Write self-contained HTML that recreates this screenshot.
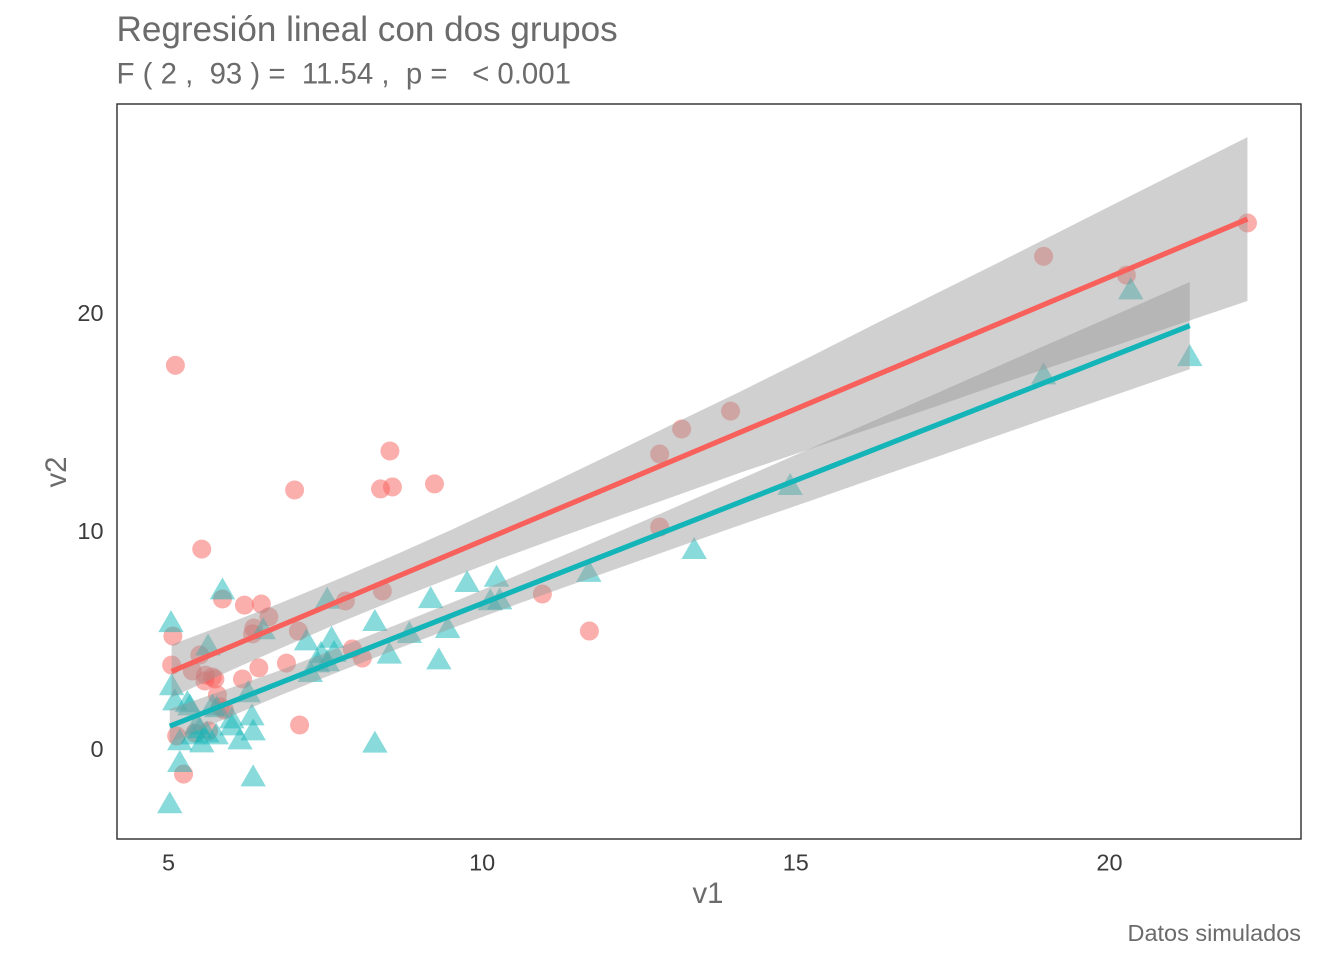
<!DOCTYPE html>
<html lang="es">
<head>
<meta charset="utf-8">
<title>Regresión lineal con dos grupos</title>
<style>
html,body{margin:0;padding:0;background:#fff;}
svg{display:block;font-family:"Liberation Sans",sans-serif;}
</style>
</head>
<body>
<svg id="chart" xmlns="http://www.w3.org/2000/svg" width="1344" height="960" viewBox="0 0 1344 960">
  <text x="116.5" y="41" font-size="35.1" fill="#6b6b6b">Regresión lineal con dos grupos</text>
  <text x="116.5" y="83.5" font-size="29.4" fill="#6b6b6b" xml:space="preserve">F ( 2 ,  93 ) =  11.54 ,  p =   &lt; 0.001</text>
  <g id="points-layer"></g>
  <g id="bands-layer"></g>
  <g id="lines-layer"></g>
  <rect x="117" y="104" width="1184" height="735" fill="none" stroke="#333333" stroke-width="1.45"/>
  <g id="x-ticks"></g>
  <g id="y-ticks"></g>
  <text x="708" y="903" font-size="29.33" fill="#6b6b6b" text-anchor="middle">v1</text>
  <text transform="translate(66 472) rotate(-90)" font-size="29.33" fill="#6b6b6b" text-anchor="middle">v2</text>
  <text x="1301" y="941" font-size="23.47" fill="#6b6b6b" text-anchor="end">Datos simulados</text>
</svg>
<script>
const xTicks = [5, 10, 15, 20];
const yTicks = [0, 10, 20];

const redX = [22.20,20.27,18.95,13.96,13.18,12.83,12.83,11.71,10.96,9.24,8.57,8.38,8.53,8.41,7.82,7.93,8.09,7.01,7.07,6.88,7.09,6.60,6.48,6.21,6.36,6.34,6.44,6.18,5.86,5.53,5.11,5.07,5.05,5.50,5.38,5.59,5.58,5.70,5.74,5.78,5.83,5.89,5.13,5.42,5.64,5.24];
const redY = [24.13,21.74,22.60,15.50,14.68,13.53,10.18,5.41,7.11,12.16,12.02,11.93,13.67,7.25,6.79,4.59,4.17,11.88,5.41,3.94,1.10,6.06,6.65,6.60,5.55,5.28,3.72,3.21,6.88,9.17,17.60,5.18,3.85,4.31,3.58,3.39,3.12,3.30,3.21,2.48,1.93,1.79,0.60,0.73,0.83,-1.15];

const tealX = [21.28,20.34,18.95,14.91,13.38,11.70,10.23,10.13,10.28,9.76,9.18,9.45,9.31,8.84,8.52,8.29,8.29,7.60,7.64,7.53,7.53,7.20,7.43,7.38,7.26,6.51,5.86,5.04,5.63,5.05,5.10,5.30,5.34,5.70,6.27,6.33,6.01,6.01,6.35,6.14,5.50,5.45,5.76,5.53,5.18,5.18,6.35,5.02,5.39,5.61,5.77];
const tealY = [17.90,20.96,17.06,11.99,9.05,8.00,7.78,6.70,6.74,7.54,6.80,5.43,3.99,5.20,4.25,5.75,0.17,4.98,4.33,6.77,3.90,4.86,4.29,3.85,3.41,5.37,7.20,5.70,4.63,2.80,2.11,2.02,1.88,1.88,2.48,1.42,1.28,0.96,0.73,0.32,0.83,1.01,0.55,0.18,0.28,-0.72,-1.38,-2.61,0.55,0.64,1.79];

const redLineX = [5.05, 22.20];
const redLineY = [3.56, 24.31];
const tealLineX = [5.02, 21.28];
const tealLineY = [1.05, 19.42];

const redBandX = [5.05,5.98,6.78,7.73,8.69,9.49,10.28,11.24,12.20,13.15,14.11,15.31,16.34,17.30,18.25,20.17,22.20];
const redBandUpper = [4.79,5.79,6.69,7.82,9.00,10.03,11.09,12.39,13.72,15.06,16.39,18.11,19.61,20.98,22.34,25.13,28.07];
const redBandLower = [2.37,3.59,4.61,5.80,6.93,7.83,8.71,9.72,10.71,11.68,12.67,13.84,14.84,15.78,16.74,18.58,20.55];

const tealBandX = [5.02,5.90,6.78,7.73,8.69,9.65,10.60,11.56,12.52,13.47,14.30,15.31,16.34,17.30,18.89,20.01,21.28];
const tealBandUpper = [1.83,2.71,3.61,4.67,5.76,6.87,8.02,9.21,10.39,11.58,12.61,13.88,15.18,16.39,18.40,19.81,21.42];
const tealBandLower = [0.28,1.38,2.46,3.56,4.64,5.68,6.69,7.67,8.65,9.62,10.46,11.46,12.50,13.45,15.05,16.16,17.42];

const SVG_NS = 'http://www.w3.org/2000/svg';
function xScale(v){ return 168.5 + (v - 5) * 62.73; }
function yScale(v){ return 749 - v * 21.8; }

const pointsLayer = document.getElementById('points-layer');
const bandsLayer = document.getElementById('bands-layer');
const linesLayer = document.getElementById('lines-layer');
const xTickLayer = document.getElementById('x-ticks');
const yTickLayer = document.getElementById('y-ticks');

redX.forEach(function(v, i){
  const el = document.createElementNS(SVG_NS, 'circle');
  
  
  el.setAttribute('cx', xScale(v));
  el.setAttribute('cy', yScale(redY[i]));
  el.setAttribute('r', 9.5);
  el.setAttribute('fill', '#F8605B');
  el.setAttribute('fill-opacity', 0.5);
  pointsLayer.appendChild(el);
});

tealX.forEach(function(v, i){
  const cx = xScale(v);
  const cy = yScale(tealY[i]);
  const el = document.createElementNS(SVG_NS, 'polygon');
  
  
  el.setAttribute('points', cx + ',' + (cy - 14.67) + ' ' + (cx + 12.7) + ',' + (cy + 7.33) + ' ' + (cx - 12.7) + ',' + (cy + 7.33));
  el.setAttribute('fill', '#14B5B8');
  el.setAttribute('fill-opacity', 0.5);
  pointsLayer.appendChild(el);
});

function bandPoints(xs, upper, lower){
  const top = xs.map(function(v, i){ return xScale(v) + ',' + yScale(upper[i]); });
  const bottom = xs.map(function(v, i){ return xScale(v) + ',' + yScale(lower[i]); }).reverse();
  return top.concat(bottom).join(' ');
}

const redBand = document.createElementNS(SVG_NS, 'polygon');


redBand.setAttribute('points', bandPoints(redBandX, redBandUpper, redBandLower));
redBand.setAttribute('fill', '#999999');
redBand.setAttribute('fill-opacity', 0.46);
bandsLayer.appendChild(redBand);

const tealBand = document.createElementNS(SVG_NS, 'polygon');


tealBand.setAttribute('points', bandPoints(tealBandX, tealBandUpper, tealBandLower));
tealBand.setAttribute('fill', '#999999');
tealBand.setAttribute('fill-opacity', 0.46);
bandsLayer.appendChild(tealBand);

const redLine = document.createElementNS(SVG_NS, 'line');


redLine.setAttribute('x1', xScale(redLineX[0]));
redLine.setAttribute('y1', yScale(redLineY[0]));
redLine.setAttribute('x2', xScale(redLineX[1]));
redLine.setAttribute('y2', yScale(redLineY[1]));
redLine.setAttribute('stroke', '#F8605B');
redLine.setAttribute('stroke-width', 5.2);
linesLayer.appendChild(redLine);

const tealLine = document.createElementNS(SVG_NS, 'line');


tealLine.setAttribute('x1', xScale(tealLineX[0]));
tealLine.setAttribute('y1', yScale(tealLineY[0]));
tealLine.setAttribute('x2', xScale(tealLineX[1]));
tealLine.setAttribute('y2', yScale(tealLineY[1]));
tealLine.setAttribute('stroke', '#14B5B8');
tealLine.setAttribute('stroke-width', 5.2);
linesLayer.appendChild(tealLine);

xTicks.forEach(function(v){
  const el = document.createElementNS(SVG_NS, 'text');
  
  
  el.setAttribute('x', xScale(v));
  el.setAttribute('y', 870.5);
  el.setAttribute('font-size', 23.47);
  el.setAttribute('fill', '#3c3c3c');
  el.setAttribute('text-anchor', 'middle');
  el.textContent = v;
  xTickLayer.appendChild(el);
});

yTicks.forEach(function(v){
  const el = document.createElementNS(SVG_NS, 'text');
  
  
  el.setAttribute('x', 103.5);
  el.setAttribute('y', yScale(v) + 8);
  el.setAttribute('font-size', 23.47);
  el.setAttribute('fill', '#3c3c3c');
  el.setAttribute('text-anchor', 'end');
  el.textContent = v;
  yTickLayer.appendChild(el);
});
</script>
</body>
</html>
